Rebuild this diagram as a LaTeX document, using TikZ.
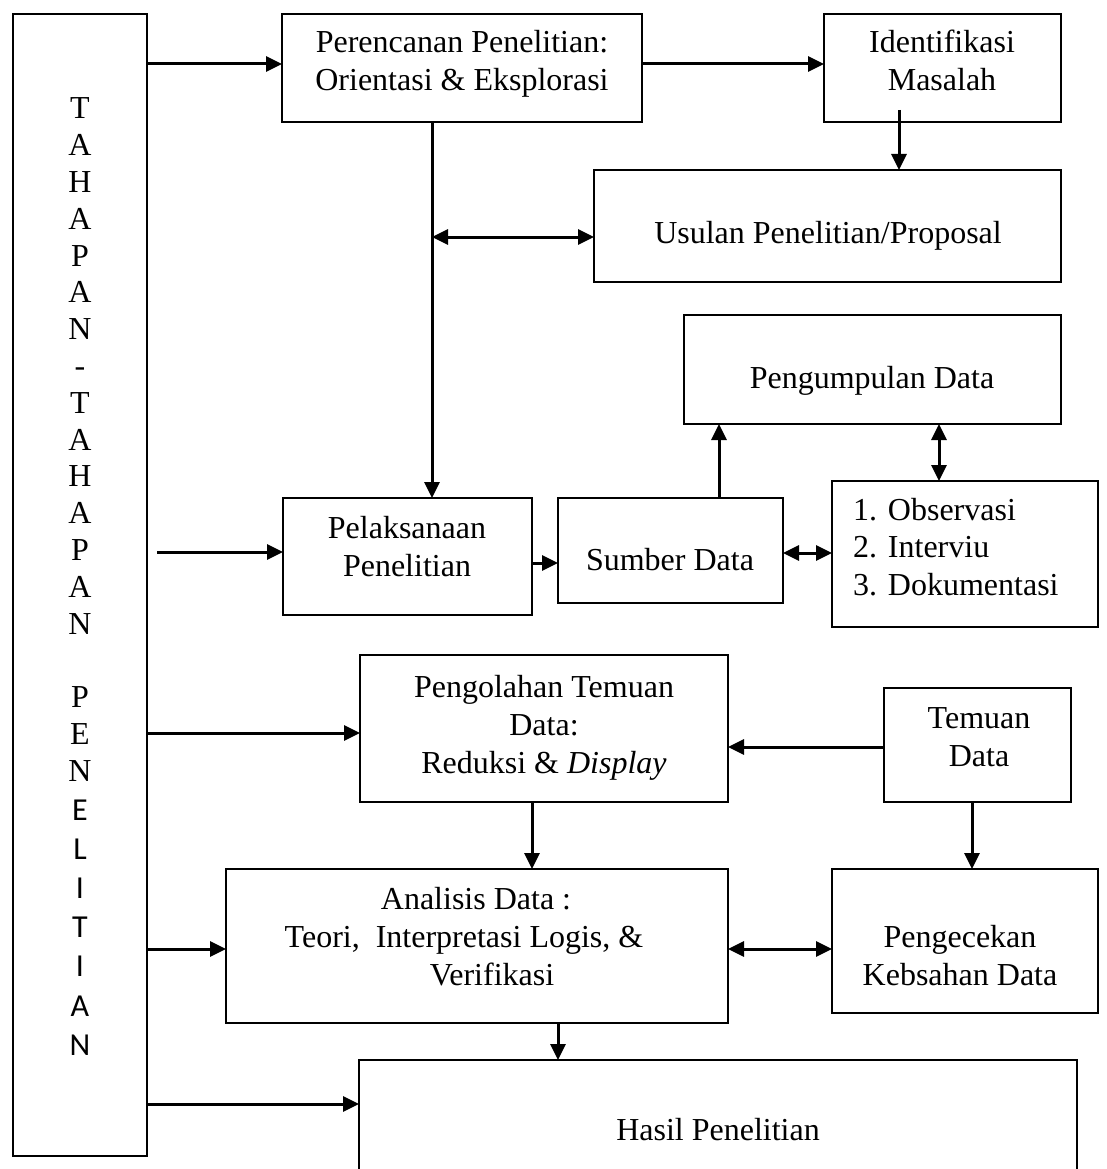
\documentclass[tikz,border=0pt]{standalone}
\usepackage{fontspec}
\setmainfont{Liberation Serif}
\newfontfamily\calib{Carlito}
\usetikzlibrary{arrows.meta,calc}
\begin{document}
\begin{tikzpicture}[x=1pt,y=-1pt,
  box/.style={draw,line width=1.9pt,inner sep=0pt,outer sep=0pt},
  txt/.style={inner sep=0pt,outer sep=0pt,align=center,anchor=north,font=\fontsize{32}{38}\selectfont},
  arr/.style={line width=3pt,-{Triangle[length=16pt,width=15pt]}},
  darr/.style={line width=3pt,{Triangle[length=16pt,width=15pt]}-{Triangle[length=16pt,width=15pt]}},
]
\fill[white] (0,0) rectangle (1107,1169);
\useasboundingbox (0,0) rectangle (1107,1169);

% boxes
\node[box,minimum width=134pt,minimum height=1142pt] (lbox) at (80,585) {};
\node[box,minimum width=360pt,minimum height=108pt] (plan) at (462,68) {};
\node[box,minimum width=237pt,minimum height=108pt] (ident) at (942.5,68) {};
\node[box,minimum width=467pt,minimum height=112pt] (usulan) at (827.5,226) {};
\node[box,minimum width=377pt,minimum height=109pt] (pengum) at (872.5,369.5) {};
\node[box,minimum width=249pt,minimum height=117pt] (pel) at (407.5,556.5) {};
\node[box,minimum width=225pt,minimum height=105pt] (sumber) at (670.5,550.5) {};
\node[box,minimum width=266pt,minimum height=146pt] (obs) at (965,554) {};
\node[box,minimum width=368pt,minimum height=147pt] (pengol) at (544,728.5) {};
\node[box,minimum width=187pt,minimum height=114pt] (temuan) at (977.5,745) {};
\node[box,minimum width=502pt,minimum height=154pt] (analisis) at (477,946) {};
\node[box,minimum width=266pt,minimum height=144pt] (cek) at (965,941) {};
\node[inner sep=0pt,outer sep=0pt,minimum width=718pt,minimum height=109pt] (hasil) at (718,1114.5) {};
\draw[line width=1.9pt] (hasil.south west) -- (hasil.north west) -- (hasil.north east) -- (hasil.south east);

% texts
\node[txt,font=\fontsize{32}{36.8}\selectfont] (tv1) at (80,93.2) {\strut T\\\strut A\\\strut H\\\strut A\\\strut P\\\strut A\\\strut N\\\strut -\\\strut T\\\strut A\\\strut H\\\strut A\\\strut P\\\strut A\\\strut N\\\strut\\\strut P\\\strut E\\\strut N};
\node[txt,font=\calib\fontsize{32}{39.2}\selectfont] (tv2) at (80,792.6) {\strut E\\\strut L\\\strut I\\\strut T\\\strut I\\\strut A\\\strut N};
\node[txt] (tplan) at (462,26.4) {\strut Perencanan Penelitian:\\\strut Orientasi \& Eksplorasi};
\node[txt] (tident) at (942,26.4) {\strut Identifikasi\\\strut Masalah};
\node[txt] (tusulan) at (828,216.4) {\strut Usulan Penelitian/Proposal};
\node[txt] (tpengum) at (872,361.4) {\strut Pengumpulan Data};
\node[txt] (tpel) at (407,511.4) {\strut Pelaksanaan\\\strut Penelitian};
\node[txt] (tsumber) at (670,543.4) {\strut Sumber Data};
\node[txt,align=left,anchor=north west,font=\fontsize{32}{37.5}\selectfont] (tobs) at (853,493.75) {\strut\makebox[35pt][l]{1.}Observasi\\\strut\makebox[35pt][l]{2.}Interviu\\\strut\makebox[35pt][l]{3.}Dokumentasi};
\node[txt] (tpengol) at (544,670.4) {\strut Pengolahan Temuan\\\strut Data:\\\strut Reduksi \& \textit{Display}};
\node[txt] (ttemuan) at (979,701.4) {\strut Temuan\\\strut Data};
\node[txt] (tcek) at (960,920.4) {\strut Pengecekan\\\strut Kebsahan Data};
\node[txt] (tanalisis) at (476,882.4) {\strut Analisis Data :\\\strut Teori,\ \ Interpretasi Logis, \&\rule{24pt}{0pt}\\\strut\hspace*{32pt}Verifikasi};
\node[txt] (thasil) at (718,1113.4) {\strut Hasil Penelitian};

% connector end points
\coordinate (vtop) at ($(plan.south west)+(150,0)$);
\coordinate (pw) at ($(plan.west)+(0,-4)$);
\coordinate (pe) at ($(plan.east)+(0,-4)$);
\coordinate (iw) at ($(ident.west)+(0,-4)$);
\coordinate (c3) at ($(ident.south west)+(75,-12)$);
\coordinate (uw) at ($(usulan.west)+(0,11)$);
\coordinate (c5) at ($(sumber.north west)+(161,0)$);
\coordinate (c6) at ($(pengum.south west)+(255,0)$);
\coordinate (se) at ($(sumber.east)+(0,2.5)$);
\coordinate (s2) at (157,552);
\coordinate (pele) at ($(pel.east)+(0,6.5)$);
\coordinate (s3) at ($(lbox.north east)+(0,719)$);
\coordinate (tw) at ($(temuan.west)+(0,2)$);
\coordinate (c12) at ($(pengol.south west)+(172,0)$);
\coordinate (c13) at ($(temuan.south west)+(88,0)$);
\coordinate (ae) at ($(analisis.east)+(0,3)$);
\coordinate (c15) at ($(analisis.south west)+(332,0)$);
\coordinate (s4) at ($(lbox.north east)+(0,935)$);
\coordinate (s5) at ($(lbox.north east)+(0,1090)$);

% connectors
\draw[arr] (pw -| lbox.east) -- (pw);
\draw[arr] (pe) -- (iw);
\draw[arr] (c3) -- (c3 |- usulan.north);
\draw[arr] (vtop) -- (vtop |- pel.north);
\draw[darr] (vtop |- uw) -- (uw);
\draw[arr] (c5) -- (c5 |- pengum.south);
\draw[darr] (c6) -- (c6 |- obs.north);
\draw[darr] (se) -- (se -| obs.west);
\draw[arr] (s2) -- (s2 -| pel.west);
\draw[arr] (pele) -- (pele -| sumber.west);
\draw[arr] (s3) -- (s3 -| pengol.west);
\draw[arr] (tw) -- (tw -| pengol.east);
\draw[arr] (c12) -- (c12 |- analisis.north);
\draw[arr] (c13) -- (c13 |- cek.north);
\draw[darr] (ae) -- (ae -| cek.west);
\draw[arr] (c15) -- (c15 |- hasil.north);
\draw[arr] (s4) -- (s4 -| analisis.west);
\draw[arr] (s5) -- (s5 -| hasil.west);
\end{tikzpicture}
\end{document}
